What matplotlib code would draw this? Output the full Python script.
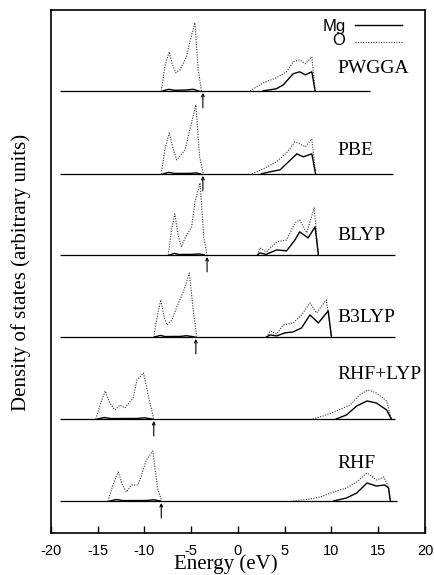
# Density of states of MgO for different functionals (Mg solid, O dotted)

import numpy as np
import matplotlib
matplotlib.use("Agg")
import matplotlib.pyplot as plt

nan = np.nan

methods = ["PWGGA", "PBE", "BLYP", "B3LYP", "RHF+LYP", "RHF"]

# O projected DOS (energy in eV, height in arbitrary units), valence | conduction
pwgga_o_e = [-8.2, -7.8, -7.35, -7.0, -6.63, -6.2, -5.5, -5.2, -4.6, -4.25, -3.9, nan,
             1.3, 2.7, 4.1, 5.2, 5.9, 6.6, 7.2, 7.9, 8.25]
pwgga_o = [0, 25, 39, 26, 18, 21, 34, 47, 68, 21, 0, nan,
           0, 8, 13, 19, 29, 31, 27, 34, 0]
pbe_o_e = [-8.2, -7.8, -7.35, -6.9, -6.55, -5.65, -5.2, -4.5, -4.1, -3.7, nan,
           1.5, 2.7, 4.1, 5.2, 6.1, 6.6, 7.2, 7.9, 8.3]
pbe_o = [0, 25, 41, 24, 14, 24, 42, 69, 17, 0, nan,
         0, 5, 12, 21, 32, 30, 27, 35, 0]
blyp_o_e = [-7.45, -7.1, -6.75, -6.4, -6.05, -5.65, -4.95, -4.6, -4.05, -3.65, -3.3, nan,
            2.1, 2.35, 3.05, 4.15, 5.2, 6.1, 6.6, 7.35, 8.15, 8.6]
blyp_o = [0, 25, 41, 20, 8, 17, 28, 53, 72, 17, 0, nan,
          0, 7, 3, 13, 15, 32, 35, 22, 47, 0]
b3lyp_o_e = [-9.0, -8.6, -8.25, -7.9, -7.6, -7.05, -6.5, -5.8, -5.2, -4.75, -4.4, nan,
             3.05, 3.45, 4.15, 4.85, 5.9, 6.8, 7.7, 8.4, 9.45, 9.85, 10.0]
b3lyp_o = [0, 22, 37, 20, 12, 17, 31, 46, 64, 24, 0, nan,
           0, 6, 3, 12, 14, 22, 34, 24, 37, 11, 0]
rhflyp_o_e = [-15.2, -14.7, -14.2, -13.7, -13.15, -12.6, -12.1, -11.2, -10.8, -10.1, -9.6, -9.0, nan,
              8.0, 9.1, 10.55, 12.0, 13.0, 13.9, 14.8, 15.9, 16.4]
rhflyp_o = [0, 15, 28, 16, 9, 14, 11, 21, 39, 46, 24, 0, nan,
            0, 3, 8, 14, 24, 29, 26, 18, 0]
rhf_o_e = [-13.9, -13.3, -12.8, -12.3, -11.9, -11.4, -10.7, -10.3, -9.8, -9.1, -8.6, -8.15, nan,
           5.9, 7.7, 8.8, 10.2, 11.6, 12.7, 13.8, 14.8, 15.6, 16.1, 16.3]
rhf_o = [0, 18, 29, 15, 9, 16, 16, 26, 41, 50, 13, 0, nan,
         0, 2, 4, 9, 13, 19, 28, 21, 24, 14, 0]

# Mg projected DOS
pwgga_mg_e = [-8.0, -7.4, -6.8, -5.5, -4.8, -4.2, nan, 2.7, 4.1, 4.85, 5.9, 6.6, 7.2, 7.9, 8.25]
pwgga_mg = [0, 1.5, 0.5, 0.8, 1.5, 0, nan, 0, 2, 6, 17, 19, 16, 19, 0]
pbe_mg_e = [-8.0, -7.4, -6.8, -5.0, -4.5, -4.0, nan, 2.5, 3.4, 4.5, 5.4, 6.3, 7.0, 7.9, 8.3]
pbe_mg = [0, 1.5, 0.4, 0.5, 1.0, 0, nan, 0, 2, 4, 12, 20, 17, 20, 0]
blyp_mg_e = [-7.3, -6.8, -6.3, -4.8, -4.2, -3.6, nan, 2.1, 2.35, 3.0, 4.15, 5.2, 6.1, 6.6, 7.5, 8.25, 8.6]
blyp_mg = [0, 1.5, 0.4, 0.5, 1.0, 0, nan, 0, 2, 0.5, 5, 4, 15, 23, 17, 28, 0]
b3lyp_mg_e = [-8.9, -8.3, -7.8, -6.2, -5.5, -4.6, nan, 3.05, 3.45, 4.15, 5.0, 5.9, 6.8, 7.7, 8.6, 9.65, 10.0]
b3lyp_mg = [0, 1.5, 0.4, 0.5, 1.2, 0, nan, 0, 2, 1, 4, 5, 9, 22, 14, 26, 0]
rhflyp_mg_e = [-15.0, -14.3, -13.6, -10.8, -10.0, -9.2, nan, 10.5, 11.6, 12.7, 13.8, 14.8, 15.9, 16.4]
rhflyp_mg = [0, 1.5, 0.4, 0.5, 1.2, 0, nan, 0, 4, 13, 18, 16, 9, 0]
rhf_mg_e = [-13.7, -13.0, -12.3, -9.8, -9.0, -8.3, nan, 10.2, 11.6, 12.7, 13.8, 14.8, 15.7, 16.1, 16.3]
rhf_mg = [0, 1.5, 0.4, 0.5, 1.2, 0, nan, 0, 3, 8, 18, 15, 16, 13, 0]

# top of valence band (arrows) and extent of the zero line per panel
vbm = [-3.75, -3.75, -3.3, -4.5, -9.0, -8.2]
base_start = [-19.0, -19.0, -19.0, -19.0, -19.0, -19.0]
base_end = [14.1, 16.6, 16.8, 16.8, 16.8, 17.0]

x_ticks = [-20, -15, -10, -5, 0, 5, 10, 15, 20]

o_data = [(pwgga_o_e, pwgga_o), (pbe_o_e, pbe_o), (blyp_o_e, blyp_o),
          (b3lyp_o_e, b3lyp_o), (rhflyp_o_e, rhflyp_o), (rhf_o_e, rhf_o)]
mg_data = [(pwgga_mg_e, pwgga_mg), (pbe_mg_e, pbe_mg), (blyp_mg_e, blyp_mg),
           (b3lyp_mg_e, b3lyp_mg), (rhflyp_mg_e, rhflyp_mg), (rhf_mg_e, rhf_mg)]

offsets = [442, 359, 278, 196, 114, 32]
label_dy = [22.5, 23, 19, 19, 44, 37.5]

serif = ["Liberation Serif", "DejaVu Serif"]
sans = ["Liberation Sans", "DejaVu Sans"]
o_style = dict(color="#333333", linewidth=0.8, linestyle=(0, (1, 1.3)))

fig = plt.figure(figsize=(4.35, 5.75), dpi=100)
ax = fig.add_axes([0.117, 0.073, 0.86, 0.91])

for i, name in enumerate(methods):
    off = offsets[i]
    ax.hlines(off, base_start[i], base_end[i], color="black", linewidth=0.9)
    oe, oh = o_data[i]
    me, mh = mg_data[i]
    ax.plot(oe, off + np.array(oh, dtype=float), **o_style)
    ax.plot(me, off + np.array(mh, dtype=float), color="black", linewidth=1.0)
    ax.annotate("", xy=(vbm[i], off - 2), xytext=(vbm[i], off - 17),
                arrowprops=dict(arrowstyle="->", lw=0.8, color="black",
                                mutation_scale=5, shrinkA=0, shrinkB=0))
    ax.text(10.6, off + label_dy[i], name, fontsize=14, family=serif,
            ha="left", va="center")

# legend drawn by hand (Mg solid, O dotted)
ax.text(0.789, 0.968, "Mg", transform=ax.transAxes, fontsize=12, family=sans,
        ha="right", va="center")
ax.text(0.786, 0.942, "O", transform=ax.transAxes, fontsize=12, family=sans,
        ha="right", va="center")
ax.plot([0.813, 0.939], [0.971, 0.971], transform=ax.transAxes,
        color="black", linewidth=1.0)
ax.plot([0.813, 0.939], [0.939, 0.939], transform=ax.transAxes, **o_style)

ax.set_xlim(-20, 20)
ax.set_ylim(0, 523)
ax.set_xticks(x_ticks)
ax.set_xticklabels([str(t) for t in x_ticks], family=sans, fontsize=10.5)
ax.set_yticks([])
ax.tick_params(axis="x", direction="in", length=5, width=1.0, pad=8)
for s in ax.spines.values():
    s.set_linewidth(1.2)

fig.text(0.52, 0.001, "Energy (eV)", fontsize=15, family=serif,
         ha="center", va="bottom")
fig.text(0.048, 0.527, "Density of states (arbitrary units)", fontsize=15,
         family=serif, rotation=90, ha="center", va="center")

fig.savefig("out.png", dpi=100)
